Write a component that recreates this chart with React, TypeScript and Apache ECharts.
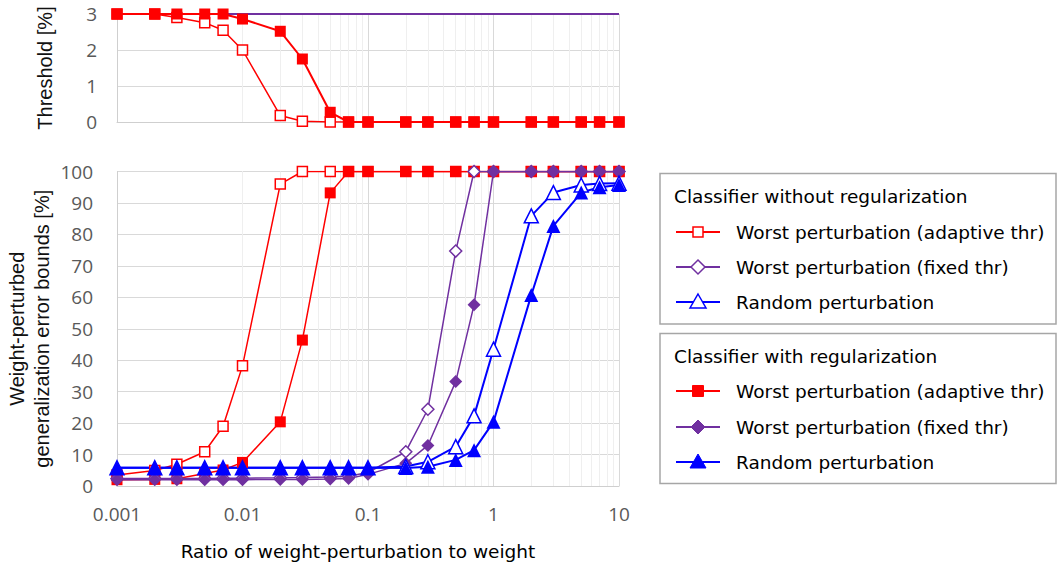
import React, { useEffect, useRef } from "react";
import * as echarts from "echarts";

// ---------- data ----------
const xValues = [0.001, 0.002, 0.003, 0.005, 0.007, 0.01, 0.02, 0.03, 0.05, 0.07, 0.1, 0.2, 0.3, 0.5, 0.7, 1, 2, 3, 5, 7, 10];

const xTickValues = [0.001, 0.01, 0.1, 1, 10];
const xTickLabels = ["0.001", "0.01", "0.1", "1", "10"];

// Threshold [%]
const thrNoRegAdaptive = [3, 3, 2.9, 2.76, 2.55, 2.0, 0.18, 0.02, 0, 0, 0, 0, 0, 0, 0, 0, 0, 0, 0, 0, 0];
const thrRegAdaptive = [3, 3, 3, 3, 3, 2.86, 2.52, 1.75, 0.27, 0, 0, 0, 0, 0, 0, 0, 0, 0, 0, 0, 0];
const thrFixed = [3, 3, 3, 3, 3, 3, 3, 3, 3, 3, 3, 3, 3, 3, 3, 3, 3, 3, 3, 3, 3];

// Weight-perturbed generalization error bounds [%]
const errNoRegAdaptive = [3.5, 4.9, 6.9, 10.9, 19, 38.2, 96, 100, 100, 100, 100, 100, 100, 100, 100, 100, 100, 100, 100, 100, 100];
const errRegAdaptive = [2.0, 2.1, 2.3, 4.0, 5.1, 7.5, 20.4, 46.4, 93.2, 100, 100, 100, 100, 100, 100, 100, 100, 100, 100, 100, 100];
const errNoRegFixed = [2.4, 2.4, 2.4, 2.4, 2.5, 2.5, 2.6, 2.7, 2.9, 3.1, 4.3, 10.9, 24.4, 74.7, 100, 100, 100, 100, 100, 100, 100];
const errRegFixed = [2.0, 2.0, 2.0, 2.0, 2.0, 2.0, 2.1, 2.1, 2.2, 2.4, 3.7, 7.2, 12.9, 33.2, 57.6, 100, 100, 100, 100, 100, 100];
const errNoRegRandom = [5.8, 5.8, 5.8, 5.8, 5.8, 5.8, 5.8, 5.8, 5.8, 5.8, 5.8, 6.2, 7.7, 12.5, 22.3, 43.5, 85.9, 93.3, 95.7, 96.2, 96.3];
const errRegRandom = [5.8, 5.8, 5.8, 5.8, 5.8, 5.8, 5.8, 5.8, 5.8, 5.8, 5.8, 5.7, 6.1, 8.3, 11.4, 20.4, 60.7, 82.7, 93.3, 95.0, 95.7];

const legendTitles = ["Classifier without regularization", "Classifier with regularization"];
const legendLabels = ["Worst perturbation (adaptive thr)", "Worst perturbation (fixed thr)", "Random perturbation"];

// ---------- styles ----------
const RED = "#ff0000";
const PURPLE = "#7030a0";
const BLUE = "#0000ff";
const GRID_MAJOR = "#d9d9d9";
const GRID_MINOR = "#efefef";
const AXIS_LINE = "#cfcfcf";
const TICK_COLOR = "#595959";
const LEGEND_FONT = '18.5px "DejaVu Sans"';

const minorXs: number[] = [];
[0.001, 0.01, 0.1, 1].forEach((d) => {
  for (let k = 2; k <= 9; k++) minorXs.push(+(d * k).toPrecision(3));
});

const pairs = (ys: number[]) => xValues.map((x, i) => [x, ys[i]]);

const minorMarkLine = {
  silent: true,
  symbol: ["none", "none"],
  z: 1,
  label: { show: false },
  lineStyle: { color: GRID_MINOR, type: "solid", width: 1 },
  emphasis: { disabled: true },
  data: minorXs.map((v) => ({ xAxis: v })),
};

function lineSeries(name: string, data: number[], color: string, symbol: string, size: number, grid: number, width: number, hollow: boolean, extra: any = {}) {
  return {
    name,
    type: "line",
    xAxisIndex: grid,
    yAxisIndex: grid,
    data: pairs(data),
    symbol,
    symbolSize: size,
    showAllSymbol: true,
    lineStyle: { color, width },
    itemStyle: hollow
      ? { color: "#ffffff", borderColor: color, borderWidth: 1.5 }
      : { color, borderColor: color, borderWidth: 0 },
    emphasis: { disabled: true },
    ...extra,
  };
}

function legendMarker(kind: string, color: string, hollow: boolean, cx: number, cy: number) {
  const style = { fill: hollow ? "#ffffff" : color, stroke: color, lineWidth: hollow ? 1.5 : 1 };
  if (kind === "square") {
    const s = hollow ? 10 : 11;
    return { type: "rect", shape: { x: cx - s / 2, y: cy - s / 2, width: s, height: s }, style, z: 101 };
  }
  if (kind === "diamond") {
    return { type: "polygon", shape: { points: [[cx, cy - 7], [cx + 7, cy], [cx, cy + 7], [cx - 7, cy]] }, style, z: 101 };
  }
  return { type: "polygon", shape: { points: [[cx, cy - 8], [cx + 8, cy + 6], [cx - 8, cy + 6]] }, style, z: 101 };
}

function buildLegend() {
  const els: any[] = [];
  const boxes = [
    { top: 173.5, height: 150.5, titleY: 196, rows: [232, 267, 302], hollow: true },
    { top: 333.5, height: 150, titleY: 356, rows: [391, 427, 462], hollow: false },
  ];
  const kinds = ["square", "diamond", "triangle"];
  const colors = [RED, PURPLE, BLUE];
  boxes.forEach((b, bi) => {
    els.push({
      type: "rect",
      shape: { x: 660, y: b.top, width: 396, height: b.height },
      style: { fill: "#ffffff", stroke: "#a6a6a6", lineWidth: 1.5 },
      z: 99,
    });
    els.push({
      type: "text",
      x: 674,
      y: b.titleY,
      style: { text: legendTitles[bi], fill: "#000000", font: LEGEND_FONT, textVerticalAlign: "middle" },
      z: 100,
    });
    b.rows.forEach((ry, ri) => {
      els.push({
        type: "line",
        shape: { x1: 676, y1: ry, x2: 720, y2: ry },
        style: { stroke: colors[ri], lineWidth: 2 },
        z: 100,
      });
      els.push(legendMarker(kinds[ri], colors[ri], b.hollow, 698, ry));
      els.push({
        type: "text",
        x: 736,
        y: ry,
        style: { text: legendLabels[ri], fill: "#000000", font: LEGEND_FONT, textVerticalAlign: "middle" },
        z: 100,
      });
    });
  });
  return els;
}

export default function App() {
  const ref = useRef<HTMLDivElement>(null);

  useEffect(() => {
    document.body.style.margin = "0";
    const chart = echarts.init(ref.current!, null, { renderer: "svg" });

    const xAxisBase = {
      type: "log",
      logBase: 10,
      min: 0.001,
      max: 10,
      axisTick: { show: false },
      axisLine: { show: true, lineStyle: { color: AXIS_LINE, width: 1 } },
      splitLine: { show: true, lineStyle: { color: GRID_MAJOR, width: 1 } },
      minorTick: { show: false },
    };

    const option: any = {
      animation: false,
      backgroundColor: "#ffffff",
      grid: [
        { left: 117, right: 438, top: 14, height: 108, containLabel: false },
        { left: 117, right: 438, top: 171.5, height: 314.5, containLabel: false },
      ],
      xAxis: [
        { ...xAxisBase, gridIndex: 0, axisLabel: { show: false } },
        {
          ...xAxisBase,
          gridIndex: 1,
          axisLabel: {
            show: true,
            margin: 18,
            color: TICK_COLOR,
            fontFamily: "Open Sans",
            fontSize: 19,
            formatter: (v: number) => {
              const i = xTickValues.findIndex((t) => Math.abs(Math.log10(t) - Math.log10(v)) < 1e-6);
              return i >= 0 ? xTickLabels[i] : "";
            },
          },
          name: "Ratio of weight-perturbation to weight",
          nameLocation: "middle",
          nameGap: 56,
          nameTextStyle: { fontFamily: "DejaVu Sans", fontSize: 18.5, color: "#000000", padding: [0, 20, 0, 0] },
        },
      ],
      yAxis: [
        {
          type: "value",
          gridIndex: 0,
          min: 0,
          max: 3,
          interval: 1,
          axisTick: { show: false },
          axisLine: { show: true, lineStyle: { color: AXIS_LINE, width: 1 } },
          splitLine: { show: true, lineStyle: { color: GRID_MAJOR, width: 1 } },
          axisLabel: { margin: 20, color: TICK_COLOR, fontFamily: "Open Sans", fontSize: 19 },
          name: "Threshold [%]",
          nameLocation: "middle",
          nameRotate: 90,
          nameGap: 62,
          nameTextStyle: { fontFamily: "Liberation Sans", fontSize: 20, color: "#111111" },
        },
        {
          type: "value",
          gridIndex: 1,
          min: 0,
          max: 100,
          interval: 10,
          axisTick: { show: false },
          axisLine: { show: true, lineStyle: { color: AXIS_LINE, width: 1 } },
          splitLine: { show: true, lineStyle: { color: GRID_MAJOR, width: 1 } },
          axisLabel: { margin: 24, color: TICK_COLOR, fontFamily: "Open Sans", fontSize: 19 },
          name: "Weight-perturbed\ngeneralization error bounds [%]",
          nameLocation: "middle",
          nameRotate: 90,
          nameGap: 63,
          nameTextStyle: { fontFamily: "Liberation Sans", fontSize: 20, lineHeight: 25, color: "#111111", align: "center" },
        },
      ],
      series: [
        // top panel: threshold
        lineSeries("Fixed thr (threshold)", thrFixed, PURPLE, "none", 0, 0, 2, false, { markLine: minorMarkLine }),
        lineSeries("Without regularization - adaptive thr (threshold)", thrNoRegAdaptive, RED, "rect", 10, 0, 1.5, true),
        lineSeries("With regularization - adaptive thr (threshold)", thrRegAdaptive, RED, "rect", 11, 0, 2, false),
        // bottom panel: error bounds
        lineSeries("Without regularization - Worst perturbation (adaptive thr)", errNoRegAdaptive, RED, "rect", 10, 1, 1.5, true, { markLine: minorMarkLine }),
        lineSeries("With regularization - Worst perturbation (adaptive thr)", errRegAdaptive, RED, "rect", 11, 1, 1.5, false),
        lineSeries("Without regularization - Worst perturbation (fixed thr)", errNoRegFixed, PURPLE, "diamond", 12, 1, 1.5, true),
        lineSeries("With regularization - Worst perturbation (fixed thr)", errRegFixed, PURPLE, "diamond", 13, 1, 1.5, false),
        lineSeries("Without regularization - Random perturbation", errNoRegRandom, BLUE, "triangle", 14, 1, 2, true),
        lineSeries("With regularization - Random perturbation", errRegRandom, BLUE, "triangle", 14, 1, 2, false),
      ],
      graphic: buildLegend(),
    };

    chart.setOption(option);
    return () => chart.dispose();
  }, []);

  return <div ref={ref} style={{ width: 1057, height: 566 }} />;
}
